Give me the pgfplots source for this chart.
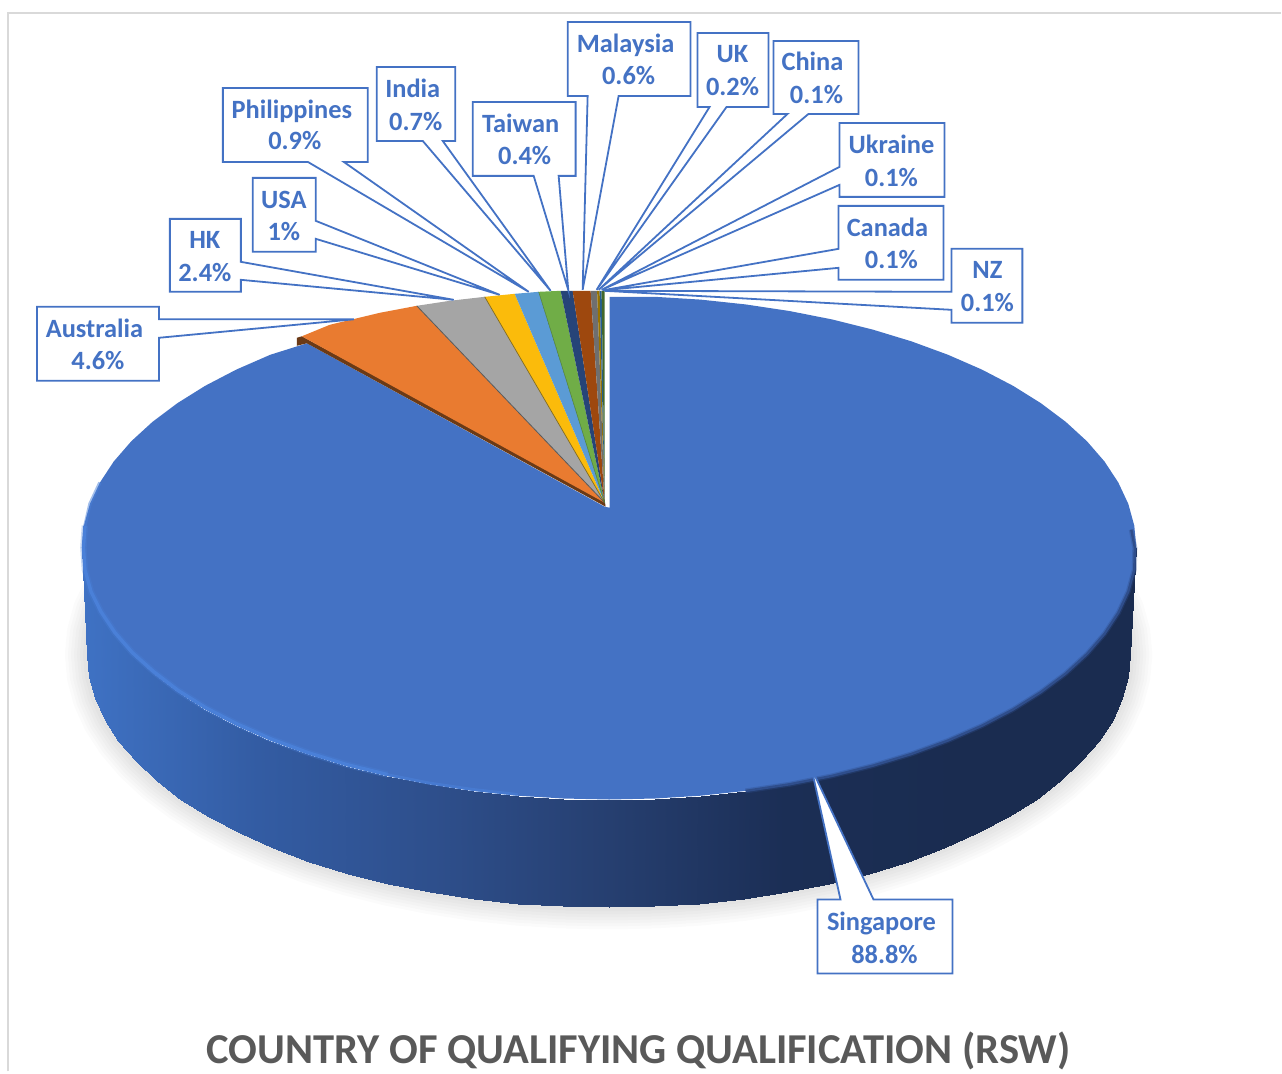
\documentclass[border=0pt]{standalone}
\usepackage{pgfplots}
\usepackage{fontspec}
\setmainfont{Carlito}
\pgfplotsset{compat=1.18}
\definecolor{lab}{HTML}{4472C4}
\definecolor{ttl}{HTML}{595959}
\definecolor{bevL}{HTML}{4A80D8}
\definecolor{bevD}{HTML}{2F4E8C}
\definecolor{cA}{HTML}{6B3A16}
\definecolor{cB}{HTML}{E97B30}
\definecolor{cC}{HTML}{A5A5A5}
\definecolor{cD}{HTML}{FBBB0B}
\definecolor{cE}{HTML}{5B9BD5}
\definecolor{cF}{HTML}{70AD47}
\definecolor{cG}{HTML}{264478}
\definecolor{cH}{HTML}{9E480E}
\definecolor{cI}{HTML}{6F6F6F}
\definecolor{cJ}{HTML}{997300}
\definecolor{cK}{HTML}{255E91}
\definecolor{cL}{HTML}{43682B}
\definecolor{eA}{HTML}{5A5A5A}
\definecolor{eB}{HTML}{7F6A20}
\definecolor{eC}{HTML}{4A7A3A}
\newcommand{\bottomrim}{(1113,590) (1123,611) (1129,633) (1131,655) (1129,677.1) (1123.1,698.9) (1113.2,720.5) (1099.5,741.5) (1082.1,761.9) (1061.1,781.5) (1036.6,800.1) (1008.9,817.6) (978.1,833.9) (944.5,848.8) (908.4,862.3) (870,874.1) (829.6,884.3) (787.5,892.7) (744.1,899.4) (699.6,904.2) (654.5,907) (609,908) (563.5,907) (518.4,904.2) (473.9,899.4) (430.5,892.7) (388.4,884.3) (348,874.1) (309.6,862.3) (273.5,848.8) (239.9,833.9) (209.1,817.6) (181.4,800.1) (156.9,781.5) (135.9,761.9) (118.5,741.5) (104.8,720.5) (94.9,698.9) (89,677.1) (87,655) (89,633) (95,611) (105,590)}
\newcommand{\rimfront}{(1132,530) (1135.5,548) (1135,570) (1129,591.8) (1119,613.2) (1105.2,634.2) (1087.6,654.5) (1066.3,674) (1041.6,692.5) (1013.6,710) (982.5,726.2) (948.6,741) (912.1,754.4) (873.3,766.2) (832.4,776.4) (789.9,784.8) (746,791.4)}
\newcommand{\rimleft}{(85,526) (83.5,548) (85,570) (91,591.8) (101,612) (115,633) (132.4,653) (153.7,672) (178.4,691) (206.4,708.5) (237.5,724.5) (271.4,739.5) (307.9,753) (346.7,765) (387.6,775)}
\newcommand{\callout}[1]{\addplot[draw=lab,line width=1.8pt,fill=white,line join=miter] coordinates {#1} --cycle;}
\newcommand{\lbl}[6]{\node[text=lab,anchor=base,yshift=-1pt,font=\fontsize{26.4}{30}\selectfont\bfseries] at (axis cs:#1,#2) {#3};\node[text=lab,anchor=base,yshift=-1pt,font=\fontsize{26.4}{30}\selectfont\bfseries] at (axis cs:#4,#5) {#6};}
\begin{document}
\begin{tikzpicture}
\begin{axis}[
  hide axis, scale only axis, width=1282pt, height=1072pt,
  xmin=0,xmax=1282,ymin=0,ymax=1072,y dir=reverse,clip=false,
  colormap={side}{rgb255=(63,114,196) rgb255=(51,92,163) rgb255=(46,79,140) rgb255=(38,63,112) rgb255=(27,46,85) rgb255=(26,44,80) rgb255=(26,44,80)},
  point meta min=82, point meta max=1137]
% frame
\addplot[draw=black!15,line width=1.6pt] coordinates {(8,1072) (8,13) (1282,13)};
% soft shadow
\addplot[draw=black,opacity=.016,line width=44pt,line join=round] coordinates {\bottomrim};
\addplot[draw=black,opacity=.016,line width=38pt,line join=round] coordinates {\bottomrim};
\addplot[draw=black,opacity=.016,line width=32pt,line join=round] coordinates {\bottomrim};
\addplot[draw=black,opacity=.016,line width=26pt,line join=round] coordinates {\bottomrim};
\addplot[draw=black,opacity=.016,line width=20pt,line join=round] coordinates {\bottomrim};
\addplot[draw=black,opacity=.016,line width=14pt,line join=round] coordinates {\bottomrim};
\addplot[draw=black,opacity=.016,line width=8pt,line join=round] coordinates {\bottomrim};
% side of the Singapore slice
\addplot[surf,shader=interp,mesh/rows=2,mesh/cols=37,point meta=x] coordinates {
(82,548) (84,570) (90,591.8) (100,613.2) (113.8,634.2) (131.4,654.5) (152.7,674) (177.4,692.5) (205.4,710) (236.5,726.2) (270.4,741) (306.9,754.4) (345.7,766.2) (386.6,776.4) (429.1,784.8) (473,791.4) (517.9,796.2) (563.5,799) (609.5,800) (655.5,799) (701.1,796.2) (746,791.4) (789.9,784.8) (832.4,776.4) (873.3,766.2) (912.1,754.4) (948.6,741) (982.5,726.2) (1013.6,710) (1041.6,692.5) (1066.3,674) (1087.6,654.5) (1105.2,634.2) (1119,613.2) (1129,591.8) (1135,570) (1137,548)

(87,655) (89,677.1) (94.9,698.9) (104.8,720.5) (118.5,741.5) (135.9,761.9) (156.9,781.5) (181.4,800.1) (209.1,817.6) (239.9,833.9) (273.5,848.8) (309.6,862.3) (348,874.1) (388.4,884.3) (430.5,892.7) (473.9,899.4) (518.4,904.2) (563.5,907) (609,908) (654.5,907) (699.6,904.2) (744.1,899.4) (787.5,892.7) (829.6,884.3) (870,874.1) (908.4,862.3) (944.5,848.8) (978.1,833.9) (1008.9,817.6) (1036.6,800.1) (1061.1,781.5) (1082.1,761.9) (1099.5,741.5) (1113.2,720.5) (1123.1,698.9) (1129,677.1) (1131,655)
};
% top of the Singapore slice
\addplot[fill=lab,draw=none] coordinates {
(610,297) (655.5,297) (701.1,299.8) (746,304.6) (789.9,311.2) (832.4,319.6) (873.3,329.8) (912.1,341.6) (948.6,355) (982.5,369.8) (1013.6,386) (1041.6,403.5) (1066.3,422) (1087.6,441.5) (1105.2,461.8) (1119,482.8) (1129,504.2) (1135,526) (1137,548) (1135,570) (1129,591.8) (1119,613.2) (1105.2,634.2) (1087.6,654.5) (1066.3,674) (1041.6,692.5) (1013.6,710) (982.5,726.2) (948.6,741) (912.1,754.4) (873.3,766.2) (832.4,776.4) (789.9,784.8) (746,791.4) (701.1,796.2) (655.5,799) (609.5,800) (563.5,799) (517.9,796.2) (473,791.4) (429.1,784.8) (386.6,776.4) (345.7,766.2) (306.9,754.4) (270.4,741) (236.5,726.2) (205.4,710) (177.4,692.5) (152.7,674) (131.4,654.5) (113.8,634.2) (100,613.2) (90,591.8) (84,570) (82,548) (84,526) (90,504.2) (100,482.8) (113.8,461.8) (131.4,441.5) (152.7,422) (177.4,403.5) (205.4,386) (236.5,369.8) (270.4,355) (307,343.5) (605,507) (610,508)
} --cycle;
% bevel highlights
\addplot[draw=bevL,line width=6.5pt,opacity=.3] coordinates {\rimleft};
\addplot[draw=bevL,line width=3.4pt,opacity=.5] coordinates {(100,482.8) (90,504.2) (85,526)};
\addplot[draw=bevL,line width=3.4pt] coordinates {\rimleft};
\addplot[draw=bevL,line width=3pt,opacity=.6] coordinates {(386.6,775) (429.1,783.5) (473,790) (517.9,795)};
\addplot[draw=bevD,line width=5pt,opacity=.35] coordinates {\rimfront};
\addplot[draw=bevD,line width=2.4pt] coordinates {\rimfront};
% small slices
\addplot[fill=cA,draw=none] coordinates {(297,338) (302,336.5) (605,500) (606,507) (307,343.5) (297,346)} --cycle;
\addplot[fill=cB,draw=none] coordinates {(605,503) (302,336.5) (330,325) (380,313) (417,306)} --cycle;
\addplot[fill=cC,draw=none] coordinates {(605,503) (417,306) (450,301) (485,297)} --cycle;
\addplot[fill=cD,draw=none] coordinates {(605,503) (485,297) (515,294)} --cycle;
\addplot[fill=cE,draw=none] coordinates {(605,503) (515,294) (539,292)} --cycle;
\addplot[fill=cF,draw=none] coordinates {(605,503) (539,292) (561,291)} --cycle;
\addplot[fill=cG,draw=none] coordinates {(605,503) (561,291) (573,291)} --cycle;
\addplot[fill=cH,draw=none] coordinates {(605,503) (573,291) (591,291)} --cycle;
\addplot[fill=cI,draw=none] coordinates {(605,503) (591,291) (597.5,291)} --cycle;
\addplot[fill=cJ,draw=none] coordinates {(605,503) (597.5,291) (600,291)} --cycle;
\addplot[fill=cK,draw=none] coordinates {(605,503) (600,291) (602,291)} --cycle;
\addplot[fill=cL,draw=none] coordinates {(605,503) (602,291) (605,291)} --cycle;
\addplot[draw=eA,line width=.8pt] coordinates {(605,503) (417,306)};
\addplot[draw=eB,line width=.7pt] coordinates {(605,503) (485,297)};
\addplot[draw=eC,line width=.5pt] coordinates {(605,503) (539,292)};
% callouts
\callout{(37,307) (159,307) (159,319.5) (354,319.5) (159,338) (159,381) (37,381)}
\callout{(170,219) (241,219) (241,262) (454,300) (241,280) (241,292) (170,292)}
\callout{(253,178) (316,178) (316,221) (500,295) (316,239) (316,252) (253,252)}
\callout{(223,88) (368,88) (368,162) (344,162) (529,292) (308,162) (223,162)}
\callout{(377,67) (455.5,67) (455.5,141) (443,141) (551,291) (423,141) (377,141)}
\callout{(473,102) (576,102) (576,176) (559,176) (568.6,290) (534,176) (473,176)}
\callout{(568,22) (691,22) (691,96) (619,96) (583,290) (588,96) (568,96)}
\callout{(698,33) (769,33) (769,107) (727,107) (597,290) (710,107) (698,107)}
\callout{(774,41) (859,41) (859,114) (809,114) (599,290) (788,114) (774,114)}
\callout{(840,123) (945,123) (945,197) (840,197) (840,185) (602,290) (840,167)}
\callout{(839,206) (944,206) (944,280) (839,280) (839,268) (603,290.5) (839,249)}
\callout{(952,249) (1023,249) (1023,323) (952,323) (952,310) (605,291) (952,292)}
\callout{(818,900) (841,900) (812,769) (874,900) (953,900) (953,974) (818,974)}
\lbl{94.5}{337}{Australia}{98}{369}{4.6\%}
\lbl{205}{248}{HK}{205}{281}{2.4\%}
\lbl{284}{208}{USA}{284}{240}{1\%}
\lbl{292}{118}{Philippines}{295}{149}{0.9\%}
\lbl{413}{97}{India}{416}{130}{0.7\%}
\lbl{521}{132}{Taiwan}{525}{164}{0.4\%}
\lbl{626}{52}{Malaysia}{629}{84}{0.6\%}
\lbl{733}{62}{UK}{733}{95}{0.2\%}
\lbl{813}{70}{China}{817}{103}{0.1\%}
\lbl{892}{153}{Ukraine}{892}{186}{0.1\%}
\lbl{888}{236}{Canada}{892}{268}{0.1\%}
\lbl{988}{278}{NZ}{988}{311}{0.1\%}
\lbl{882}{930}{Singapore}{885}{963}{88.8\%}
\node[text=ttl,anchor=base,font=\fontsize{42.6}{48}\selectfont\bfseries] at (axis cs:639,1064) {COUNTRY OF QUALIFYING QUALIFICATION (RSW)};
\path (axis cs:0,0) rectangle (axis cs:1282,1072);
\end{axis}
\end{tikzpicture}
\end{document}
